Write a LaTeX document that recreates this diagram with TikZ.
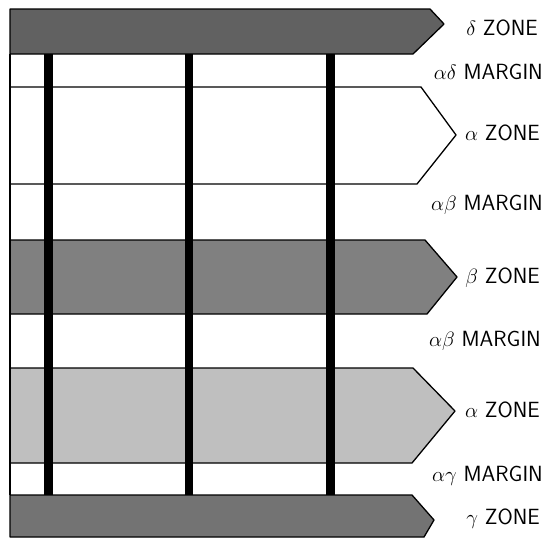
\documentclass[tikz,border=0pt]{standalone}
\usetikzlibrary{positioning}
\begin{document}
\begin{tikzpicture}[x=1pt, y=-1pt,
  zone/.style={draw, line width=1.3pt, line join=round},
  post/.style={line width=9pt, line cap=butt},
  lbl/.style={anchor=east, font=\sffamily\fontsize{22}{24}\selectfont, inner sep=0pt}
]
  \useasboundingbox (0,0) rectangle (545,541);
  \fill[white] (0,0) rectangle (545,541);

  \draw[zone, fill=black!62] (10,9) -- (430,9) -- (444,24) -- (413,54) -- (10,54) -- cycle;
  \draw[zone] (10,87) -- (421,87) -- (456,135) -- (417,184) -- (10,184);
  \draw[zone, fill=black!50] (10,240) -- (425,240) -- (457,277) -- (427,314) -- (10,314) -- cycle;
  \draw[zone, fill=black!25] (10,368) -- (413,368) -- (455,411) -- (412,463) -- (10,463) -- cycle;
  \draw[zone, fill=black!55] (10,495) -- (412,495) -- (434,520) -- (424,537) -- (10,537) -- cycle;
  \draw[line width=1.3pt] (10,54) -- (10,495);

  \draw[post] (48,54) -- (48,495);
  \draw[post, line width=8pt] (189,54) -- (189,495);
  \draw[post] (330,54) -- (330,495);

  \node[lbl] (dz) at (538,28) {$\delta$ ZONE};
  \node[lbl] (adm) at (543,72) {$\alpha\delta$ MARGIN};
  \node[lbl] (az1) at (540,133) {$\alpha$ ZONE};
  \node[lbl] (abm1) at (543,205) {$\alpha\beta$ MARGIN};
  \node[lbl] (bz) at (540,278) {$\beta$ ZONE};
  \node[lbl] (abm2) at (541,341) {$\alpha\beta$ MARGIN};
  \node[lbl] (az2) at (540,410) {$\alpha$ ZONE};
  \node[lbl] (agm) at (543,476) {$\alpha\gamma$ MARGIN};
  \node[lbl] (gz) at (540,519) {$\gamma$ ZONE};
\end{tikzpicture}
\end{document}
